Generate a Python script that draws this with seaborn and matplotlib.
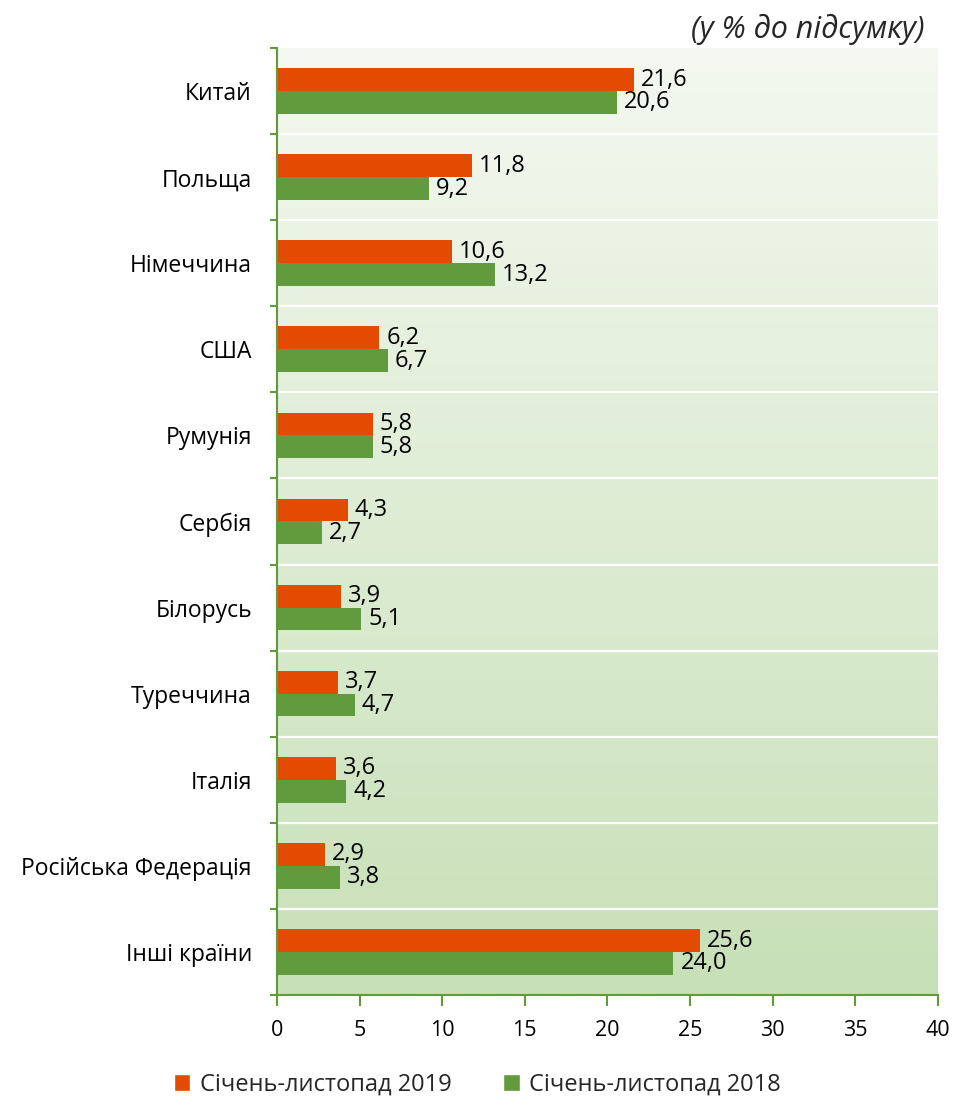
import numpy as np
import pandas as pd
import matplotlib
matplotlib.use("Agg")
import matplotlib.pyplot as plt
import seaborn as sns
from matplotlib.patches import Patch

# data
countries = ["Китай", "Польща", "Німеччина", "США", "Румунія", "Сербія",
             "Білорусь", "Туреччина", "Італія", "Російська Федерація", "Інші країни"]
share_2019 = [21.6, 11.8, 10.6, 6.2, 5.8, 4.3, 3.9, 3.7, 3.6, 2.9, 25.6]
share_2018 = [20.6, 9.2, 13.2, 6.7, 5.8, 2.7, 5.1, 4.7, 4.2, 3.8, 24.0]
series_names = ["Січень-листопад 2019", "Січень-листопад 2018"]
x_ticks = [0, 5, 10, 15, 20, 25, 30, 35, 40]

orange = "#e24b00"
green = "#629a3e"
axis_green = "#5f9a3c"

sns.set_theme(style="white")
plt.rcParams["font.family"] = ["Open Sans", "DejaVu Sans"]

df = pd.DataFrame({
    "country": countries * 2,
    "value": share_2019 + share_2018,
    "period": [series_names[0]] * len(countries) + [series_names[1]] * len(countries),
})

fig = plt.figure(figsize=(9.55, 11.06), dpi=100)
ax = fig.add_axes([0.290, 0.1004, 0.692, 0.8562])

sns.barplot(data=df, y="country", x="value", hue="period", orient="h",
            palette=[orange, green], width=0.53, saturation=1, ax=ax,
            legend=False, zorder=3, linewidth=0)

n = len(countries)
ax.set_xlim(0, 40)
ax.set_ylim(n - 0.5, -0.5)

# gradient background
grad = np.linspace(0, 1, 256).reshape(-1, 1)
top_c = np.array([244, 248, 240]) / 255
bot_c = np.array([199, 224, 183]) / 255
img = top_c + grad[..., None] * (bot_c - top_c)
img = img.reshape(256, 1, 3)
ax.imshow(img, extent=[0, 40, n - 0.5, -0.5], aspect="auto", zorder=0,
          interpolation="bilinear")

# white separators between categories
for b in np.arange(0.5, n - 0.5, 1):
    ax.axhline(b, color="white", lw=1.6, zorder=1)

# value labels
for cont, vals in zip(ax.containers, [share_2019, share_2018]):
    ax.bar_label(cont, labels=[f"{v:.1f}".replace(".", ",") for v in vals],
                 padding=5, fontsize=17, color="black")

ax.set_xlabel("")
ax.set_ylabel("")
ax.set_xticks(x_ticks)
ax.set_xticklabels([str(t) for t in x_ticks], fontsize=15.5, color="black")
ax.tick_params(axis="x", which="major", length=8, width=1.5, color=axis_green,
               direction="out", pad=10, bottom=True)
ax.tick_params(axis="y", which="major", length=0, pad=18, labelsize=16.5,
               labelcolor="black")
ax.set_yticks(np.arange(-0.5, n, 1), minor=True)
ax.tick_params(axis="y", which="minor", length=5, width=1.5, color=axis_green,
               direction="out", left=True)

for side in ["top", "right"]:
    ax.spines[side].set_visible(False)
for side in ["left", "bottom"]:
    ax.spines[side].set_color(axis_green)
    ax.spines[side].set_linewidth(1.5)
    ax.spines[side].set_zorder(4)

fig.text(0.968, 0.973, "(у % до підсумку)", ha="right", va="center",
         fontsize=22, style="italic")

handles = [Patch(facecolor=orange, label=series_names[0]),
           Patch(facecolor=green, label=series_names[1])]
fig.legend(handles=handles, loc="center", bbox_to_anchor=(0.5, 0.019), ncol=2,
           frameon=False, fontsize=17, handlelength=0.7, handleheight=0.7,
           handletextpad=0.4, columnspacing=2.2)

fig.savefig("out.png", dpi=100)
